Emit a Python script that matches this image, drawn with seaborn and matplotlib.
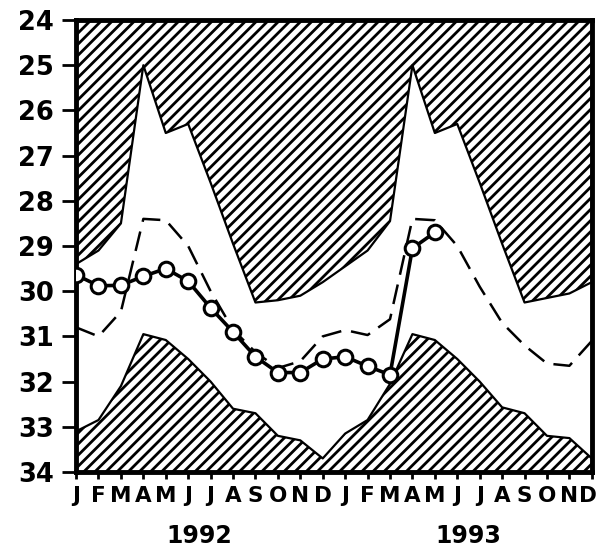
import numpy as np
import pandas as pd
import matplotlib
matplotlib.use("Agg")
import matplotlib.pyplot as plt
import seaborn as sns

# month letters for 1992 and 1993
months = list("JFMAMJJASOND") * 2
years = ["1992", "1993"]

# upper limit of normal range (bottom edge of upper hatched area)
upper = [29.4, 29.1, 28.5, 25.0, 26.5, 26.3, 27.6, 28.95, 30.25, 30.2, 30.1, 29.8,
         29.45, 29.1, 28.45, 25.0, 26.5, 26.3, 27.6, 28.95, 30.25, 30.15, 30.05, 29.8]
# lower limit (top edge of lower hatched area)
lower = [33.1, 32.85, 32.1, 30.95, 31.08, 31.5, 32.0, 32.6, 32.7, 33.2, 33.3, 33.7,
         33.15, 32.85, 32.05, 30.95, 31.08, 31.5, 32.0, 32.57, 32.7, 33.2, 33.25, 33.7]
# mean (dashed)
mean = [30.8, 31.0, 30.45, 28.4, 28.43, 29.0, 30.0, 30.85, 31.35, 31.7, 31.55, 31.0,
        30.86, 30.97, 30.62, 28.4, 28.43, 29.0, 29.9, 30.7, 31.2, 31.6, 31.65, 31.1]
# observed values, Jan 1992 - May 1993
observed = [29.64, 29.88, 29.87, 29.67, 29.5, 29.78, 30.37, 30.9, 31.45, 31.8, 31.8,
            31.5, 31.45, 31.66, 31.85, 29.05, 28.7]

x = np.arange(len(months))
df_clim = pd.DataFrame({"m": x, "upper": upper, "lower": lower, "mean": mean})
df_obs = pd.DataFrame({"m": x[:len(observed)], "val": observed})

sns.set_style("ticks", {"axes.edgecolor": "black", "xtick.color": "black",
                        "ytick.color": "black", "text.color": "black",
                        "axes.labelcolor": "black"})
plt.rcParams["font.family"] = ["DejaVu Sans"]
plt.rcParams["font.weight"] = "bold"
plt.rcParams["hatch.linewidth"] = 2.0

fig = plt.figure(figsize=(5.99, 5.48), dpi=100)
ax = fig.add_axes([0.127, 0.1387, 0.861, 0.8248])

# hatched areas outside the normal range
ax.fill_between(df_clim["m"], df_clim["upper"], 24, facecolor="white",
                edgecolor="black", hatch="///", linewidth=1.6, zorder=1)
ax.fill_between(df_clim["m"], df_clim["lower"], 34, facecolor="white",
                edgecolor="black", hatch="///", linewidth=1.6, zorder=1)

sns.lineplot(data=df_clim, x="m", y="mean", color="black", lw=1.8, ax=ax, zorder=2)
ax.lines[-1].set_dashes((8, 4))

sns.lineplot(data=df_obs, x="m", y="val", color="black", lw=2.6, marker="o",
             markersize=10.5, markerfacecolor="white", markeredgecolor="black",
             markeredgewidth=2.2, ax=ax, zorder=3)

ax.set_xlim(0, len(months) - 1)
ax.set_ylim(34, 24)
ax.set_xticks(x)
ax.set_xticklabels(months, fontsize=15.5, fontweight="bold")
ax.set_yticks(np.arange(24, 35))
ax.set_yticklabels([str(v) for v in range(24, 35)], fontsize=18.5, fontweight="bold")
ax.tick_params(axis="y", length=10, width=2, pad=6)
ax.tick_params(axis="x", length=5, width=2, pad=5)
ax.set_xlabel("")
ax.set_ylabel("")

# last "D" sits on the right spine; nudge it left so it stays inside the figure
last = ax.get_xticklabels()[-1]
last.set_transform(last.get_transform() +
                   matplotlib.transforms.ScaledTranslation(-4 / 100, 0, fig.dpi_scale_trans))

for s in ax.spines.values():
    s.set_linewidth(3.5)
    s.set_visible(True)

trans = matplotlib.transforms.blended_transform_factory(ax.transData, ax.transAxes)
for i, yr in enumerate(years):
    ax.text(5.5 + 12 * i, -0.141, yr, transform=trans, ha="center", va="center",
            fontsize=17, fontweight="bold")

fig.savefig("out.png", dpi=100)
